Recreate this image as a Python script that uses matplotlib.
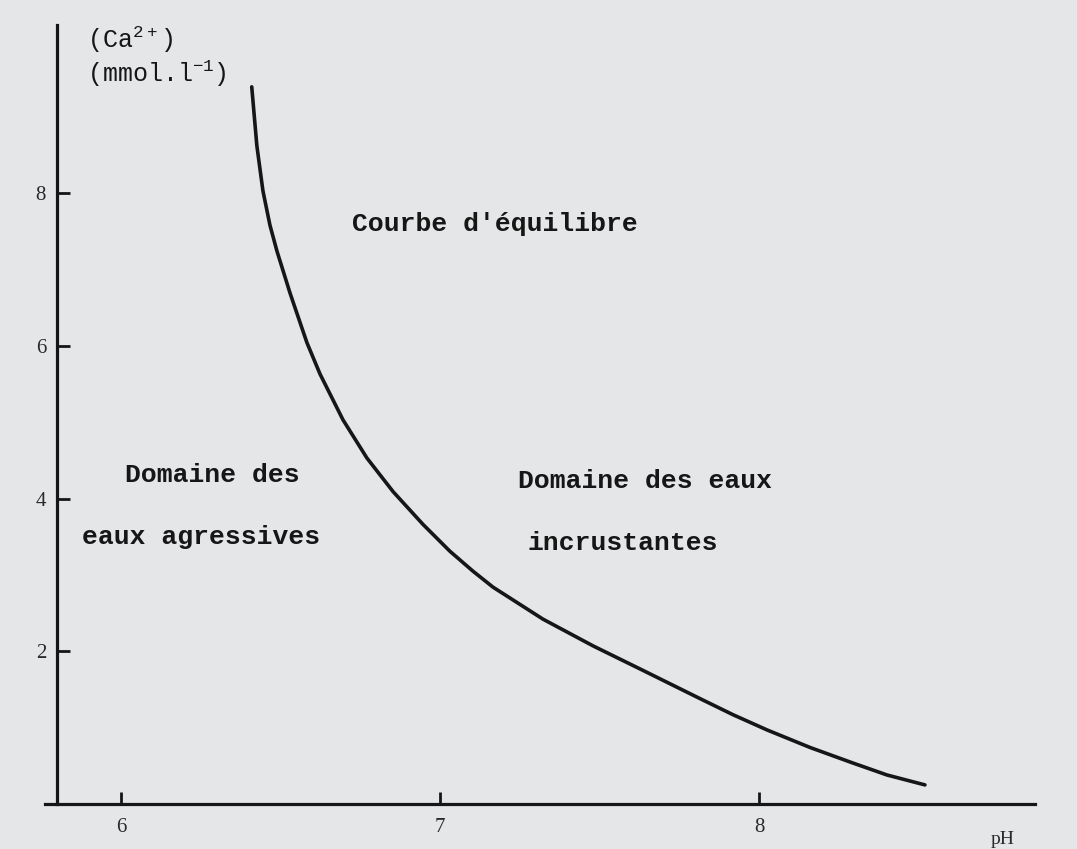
import matplotlib
matplotlib.use("Agg")
import matplotlib.pyplot as plt

# ---- data ----
ph = [6.410, 6.426, 6.445, 6.467, 6.489, 6.530, 6.583, 6.624, 6.696, 6.771,
      6.853, 6.947, 7.031, 7.103, 7.166, 7.323, 7.480, 7.636, 7.815, 7.918,
      8.025, 8.160, 8.292, 8.401, 8.520]
ca = [9.39, 8.62, 8.03, 7.58, 7.24, 6.69, 6.04, 5.63, 5.03, 4.53,
      4.09, 3.66, 3.31, 3.05, 2.84, 2.42, 2.07, 1.75, 1.38, 1.17,
      0.97, 0.74, 0.54, 0.38, 0.25]
x_ticks = [6, 7, 8]
y_ticks = [2, 4, 6, 8]
curve_label = "Courbe d'équilibre"
left_labels = ["Domaine des", "eaux agressives"]
right_labels = ["Domaine des eaux", "incrustantes"]

BG = "#e4e6e8"
INK = "#161616"
MONO = "Liberation Mono"
SERIF = "Liberation Serif"

W, H = 1077, 849
fig = plt.figure(figsize=(W / 100, H / 100), dpi=100, facecolor=BG)
ax = fig.add_axes([45 / W, 1 - 804 / H, (1035 - 45) / W, (804 - 25) / H])
ax.set_facecolor(BG)
ax.set_xlim(5.762, 8.865)
ax.set_ylim(0, 10.2)

ax.plot(ph, ca, color=INK, lw=2.6, solid_capstyle="round", solid_joinstyle="round")

for s in ["top", "right"]:
    ax.spines[s].set_visible(False)
ax.spines["left"].set_position(("data", 5.8))
for s in ["left", "bottom"]:
    ax.spines[s].set_linewidth(2.3)
    ax.spines[s].set_color(INK)

ax.set_xticks(x_ticks)
ax.set_xticklabels([str(v) for v in x_ticks])
ax.set_yticks(y_ticks)
ax.set_yticklabels([str(v) for v in y_ticks])
ax.tick_params(axis="both", direction="in", length=9, width=2.0, color=INK,
               labelsize=15, labelcolor="#2a2a2a")
ax.tick_params(axis="x", pad=10)
ax.tick_params(axis="y", pad=8)
for lab in ax.get_xticklabels() + ax.get_yticklabels():
    lab.set_family(SERIF)

txt = dict(family=MONO, fontweight="bold", fontsize=19, color=INK, va="center", ha="left")
ax.text(6.724, 7.6, curve_label, **txt)
ax.text(6.013, 4.31, left_labels[0], **txt)
ax.text(5.878, 3.50, left_labels[1], **txt)
ax.text(7.245, 4.23, right_labels[0], **txt)
ax.text(7.273, 3.42, right_labels[1], **txt)

# axis titles
fig.text(87 / W, 1 - 40 / H, r"(Ca$^{\mathregular{2+}}$)", family=MONO, fontsize=18,
         color=INK, va="center", ha="left")
fig.text(87 / W, 1 - 74 / H, r"(mmol.l$^{\mathregular{-1}}$)", family=MONO, fontsize=18,
         color=INK, va="center", ha="left")
fig.text(1003 / W, 1 - 840 / H, "pH", family=SERIF, fontsize=14, color="#2a2a2a",
         va="center", ha="center")

fig.savefig("out.png", dpi=100, facecolor=BG)
